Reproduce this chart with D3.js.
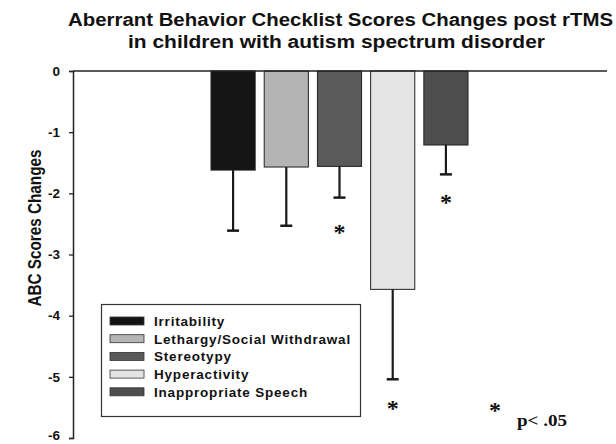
<!DOCTYPE html>
<html>
<head>
<meta charset="utf-8">
<script src="https://cdn.jsdelivr.net/npm/d3@7"></script>
<style>
  html, body { margin: 0; padding: 0; background: #fff; }
  svg { display: block; }
</style>
</head>
<body>
<script>
// ---- data ----
const categories = ["Irritability", "Lethargy/Social Withdrawal", "Stereotypy", "Hyperactivity", "Inappropriate Speech"];
const meanChanges = [-1.62, -1.57, -1.56, -3.57, -1.21];
const errorSizes = [0.99, 0.96, 0.51, 1.47, 0.48];
const significant = [false, false, true, true, true];
const starValues = [null, null, -2.58, -5.46, -2.08];
const yTicks = [0, -1, -2, -3, -4, -5, -6];
const barColors = ["#141414", "#b4b4b4", "#5a5a5a", "#e4e4e4", "#4e4e4e"];
const titleLines = ["Aberrant Behavior Checklist Scores Changes post rTMS", "in children with autism spectrum disorder"];
const yAxisTitle = "ABC Scores Changes";
const noteText = "p< .05";

const W = 616, H = 444;
const svg = d3.select("body").append("svg").attr("width", W).attr("height", H);

const axisX = 73;
const y = d3.scaleLinear().domain([-6, 0]).range([438, 71]);
const x = d3.scaleBand().domain(categories).range([211, 468]).paddingInner(0.17).paddingOuter(0);

const sans = "'Liberation Sans', Arial, sans-serif";
const serif = "'Liberation Serif', 'Times New Roman', serif";

// title
svg.append("text").attr("x", 68).attr("y", 26).attr("font-family", sans).attr("font-weight", "bold")
  .attr("font-size", 18).attr("textLength", 545).attr("lengthAdjust", "spacingAndGlyphs")
  .attr("fill", "#111").text(titleLines[0]);
svg.append("text").attr("x", 128).attr("y", 48).attr("font-family", sans).attr("font-weight", "bold")
  .attr("font-size", 18).attr("textLength", 417).attr("lengthAdjust", "spacingAndGlyphs")
  .attr("fill", "#111").text(titleLines[1]);

// bars
const data = categories.map((c, i) => ({ c, v: meanChanges[i], e: errorSizes[i], col: barColors[i], sig: significant[i], s: starValues[i] }));

svg.append("g").selectAll("rect").data(data).join("rect")
  .attr("x", d => x(d.c))
  .attr("y", y(0))
  .attr("width", x.bandwidth())
  .attr("height", d => y(d.v) - y(0))
  .attr("fill", d => d.col)
  .attr("stroke", "#222")
  .attr("stroke-width", 1);

// error bars
const eg = svg.append("g").attr("stroke", "#1a1a1a");
eg.selectAll("line.v").data(data).join("line").attr("class", "v")
  .attr("x1", d => x(d.c) + x.bandwidth() / 2).attr("x2", d => x(d.c) + x.bandwidth() / 2)
  .attr("y1", d => y(d.v)).attr("y2", d => y(d.v - d.e)).attr("stroke-width", 2.2);
eg.selectAll("line.cap").data(data).join("line").attr("class", "cap")
  .attr("x1", d => x(d.c) + x.bandwidth() / 2 - 6).attr("x2", d => x(d.c) + x.bandwidth() / 2 + 6)
  .attr("y1", d => y(d.v - d.e)).attr("y2", d => y(d.v - d.e)).attr("stroke-width", 2.5);

// significance stars
svg.append("g").selectAll("text").data(data.filter(d => d.sig)).join("text")
  .attr("x", d => x(d.c) + x.bandwidth() / 2)
  .attr("y", d => y(d.s) + 11.5)
  .attr("text-anchor", "middle")
  .attr("font-family", serif).attr("font-weight", "bold").attr("font-size", 24)
  .attr("fill", "#111").text("*");

// axes
svg.append("line").attr("x1", axisX).attr("x2", 607).attr("y1", y(0)).attr("y2", y(0))
  .attr("stroke", "#222").attr("stroke-width", 1.5);
const yAxis = d3.axisLeft(y).tickValues(yTicks).tickSize(4).tickPadding(9).tickFormat(d3.format("d"));
const ga = svg.append("g").attr("transform", `translate(${axisX},0)`).call(yAxis);
ga.select(".domain").attr("stroke", "#222").attr("stroke-width", 1.5);
ga.selectAll(".tick line").attr("stroke", "#222").attr("stroke-width", 1.3);
ga.selectAll(".tick text").attr("font-family", sans).attr("font-weight", "bold").attr("font-size", 13.5).attr("fill", "#111")
  .attr("dy", d => d === -6 ? "0.1em" : "0.32em")
  .text(d => d === 0 ? "0" : "-" + Math.abs(d));

// y title
svg.append("text").attr("transform", "translate(41,228) rotate(-90)").attr("text-anchor", "middle")
  .attr("font-family", sans).attr("font-weight", "bold").attr("font-size", 17.5)
  .attr("textLength", 157).attr("lengthAdjust", "spacingAndGlyphs")
  .attr("fill", "#111").text(yAxisTitle);

// legend
const lg = svg.append("g");
lg.append("rect").attr("x", 101.5).attr("y", 304.5).attr("width", 259).attr("height", 112)
  .attr("fill", "#fff").attr("stroke", "#333").attr("stroke-width", 1.2);
const rows = lg.selectAll("g.row").data(data).join("g").attr("class", "row")
  .attr("transform", (d, i) => `translate(0,${321 + i * 17.7})`);
rows.append("rect").attr("x", 110).attr("y", -4).attr("width", 34).attr("height", 8)
  .attr("fill", d => d.col).attr("stroke", "#333").attr("stroke-width", 0.8);
rows.append("text").attr("x", 154).attr("y", 4.8).attr("font-family", sans).attr("font-weight", "bold")
  .attr("font-size", 13.5).attr("letter-spacing", 0.8).attr("fill", "#111").text(d => d.c);

// note
svg.append("text").attr("x", 495).attr("y", 418).attr("text-anchor", "middle")
  .attr("font-family", serif).attr("font-weight", "bold").attr("font-size", 24).attr("fill", "#111").text("*");
svg.append("text").attr("x", 517).attr("y", 426).attr("font-family", serif).attr("font-weight", "bold")
  .attr("font-size", 16).attr("textLength", 50).attr("lengthAdjust", "spacingAndGlyphs")
  .attr("fill", "#111").text(noteText);
</script>
</body>
</html>
